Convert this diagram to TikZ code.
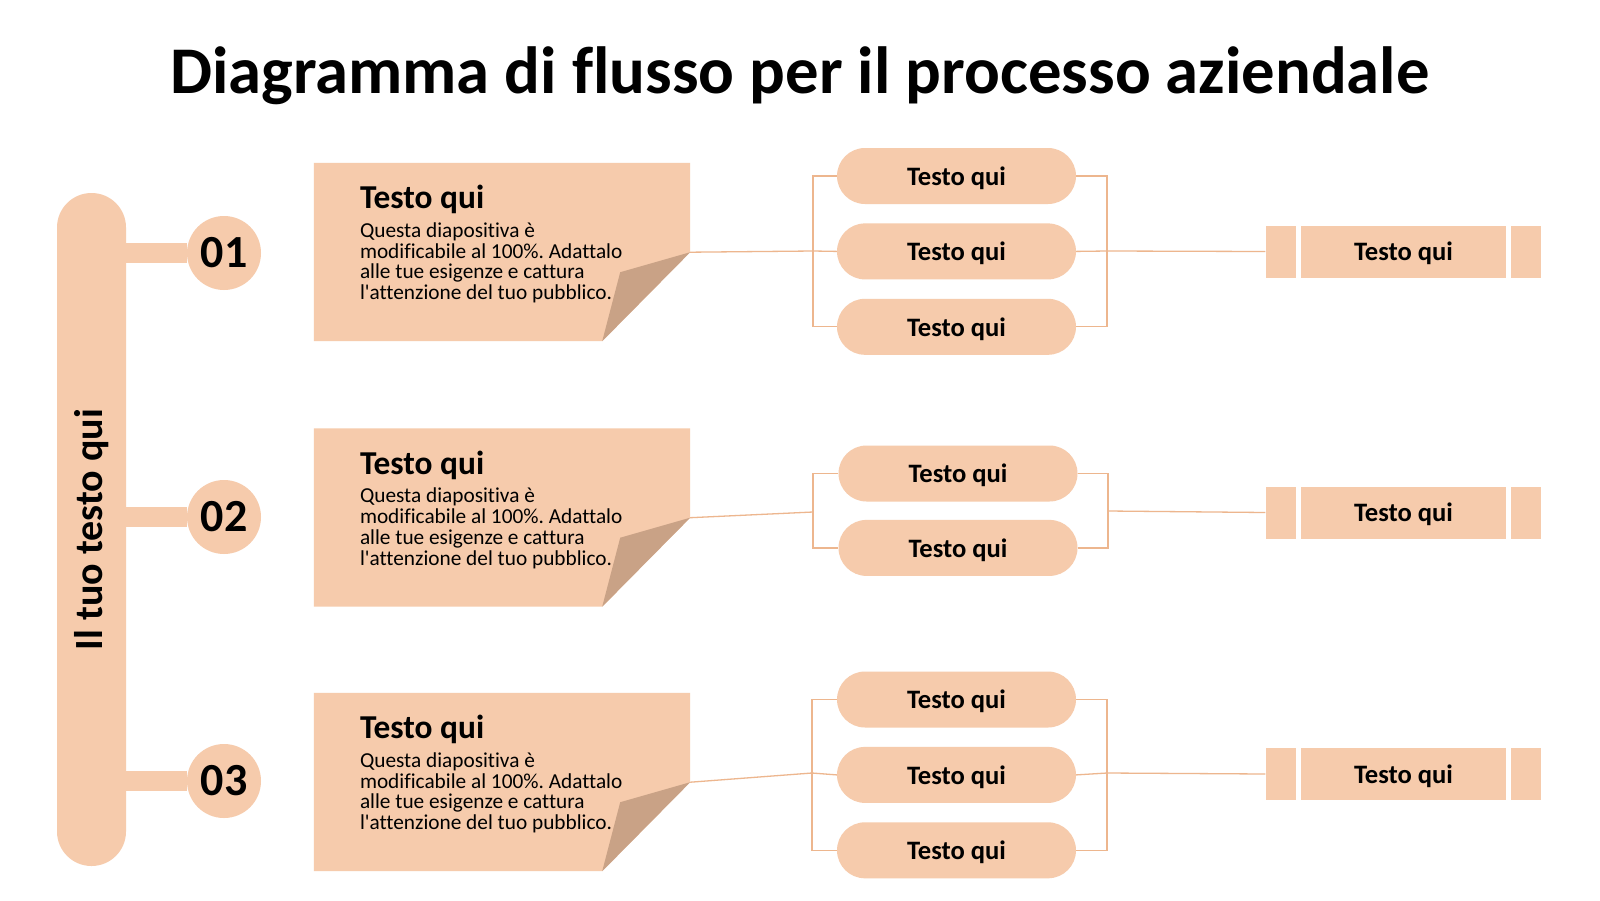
\documentclass[tikz,border=0pt]{standalone}
\usepackage{fontspec}
\setmainfont{Carlito}[Ligatures={TeXOff,CommonOff}]
\usepackage{tikz}
\usepackage{xcolor}
\usetikzlibrary{positioning}
\frenchspacing
\definecolor{peach}{HTML}{F6CBAC}
\definecolor{foldc}{HTML}{C9A286}
\definecolor{linkc}{HTML}{EDB68E}
\newcommand{\tq}{Testo qui}
\newcommand{\notetext}{Questa diapositiva è\\modificabile al 100\%. Adattalo\\alle tue esigenze e cattura\\l'attenzione del tuo pubblico.}
\tikzstyle{spine} = [fill=peach, rounded corners=34.5pt, minimum width=69pt, minimum height=673pt, inner sep=0pt]
\tikzstyle{stub} = [draw=peach, line width=20pt]
\tikzstyle{num} = [circle, fill=peach, minimum size=74pt, inner sep=0pt, font=\fontsize{46}{54}\selectfont\bfseries]
\tikzstyle{note} = [minimum width=376pt, minimum height=178pt, inner sep=0pt]
\tikzstyle{notehead} = [inner sep=0pt, font=\fontsize{33.4}{40}\selectfont\bfseries]
\tikzstyle{notebody} = [inner sep=0pt, align=left, font=\fontsize{21.3}{20.8}\selectfont]
\tikzstyle{pill} = [fill=peach, rounded corners=28pt, minimum width=239pt, minimum height=56pt, inner sep=0pt, text depth=0pt, font=\fontsize{26.6}{32}\selectfont\bfseries]
\tikzstyle{rbox} = [fill=peach, minimum width=205pt, minimum height=52pt, inner sep=0pt, text depth=0pt, font=\fontsize{26.6}{32}\selectfont\bfseries]
\tikzstyle{rside} = [fill=peach, minimum width=30pt, minimum height=52pt, inner sep=0pt]
\tikzstyle{link} = [draw=linkc, line width=1.3pt]

\begin{document}
\begin{tikzpicture}[x=1pt,y=-1pt]
	\useasboundingbox[fill=white] (0,0) rectangle (1600,900);
	\node[font=\fontsize{66.7}{80}\selectfont\bfseries, anchor=base] (title) at (800,93) {Diagramma di flusso per il processo aziendale};

	\node[spine] (bar) at (91.5,529.5) {};
	\node[rotate=90, font=\fontsize{40}{48}\selectfont\bfseries] (bartext) at (bar.center) {Il tuo testo qui};

	\node[num] (n1) at (224,253) {01};
	\node[num] (n2) at (224,517) {02};
	\node[num] (n3) at (224,781) {03};
	\draw[stub] (n1.west) -- (n1 -| bar.east);
	\draw[stub] (n2.west) -- (n2 -| bar.east);
	\draw[stub] (n3.west) -- (n3 -| bar.east);

	\node[note] (b1) at (502,252) {};
	\node[note] (b2) at (502,517.5) {};
	\node[note] (b3) at (502,782) {};
	\coordinate (f1) at ([yshift=89pt]b1.south east);
	\coordinate (f2) at ([yshift=89pt]b2.south east);
	\coordinate (f3) at ([yshift=89pt]b3.south east);
	\fill[peach] (b1.north west) -- (b1.north east) -- (f1) -- ([xshift=-88pt]b1.south east) -- (b1.south west) -- cycle;
	\fill[foldc] (f1) -- ++(-70,20) -- ++(-18,69) -- cycle;
	\fill[peach] (b2.north west) -- (b2.north east) -- (f2) -- ([xshift=-88pt]b2.south east) -- (b2.south west) -- cycle;
	\fill[foldc] (f2) -- ++(-70,20) -- ++(-18,69) -- cycle;
	\fill[peach] (b3.north west) -- (b3.north east) -- (f3) -- ([xshift=-88pt]b3.south east) -- (b3.south west) -- cycle;
	\fill[foldc] (f3) -- ++(-70,20) -- ++(-18,69) -- cycle;

	\node[notehead, anchor=base west] (h1) at ([xshift=46pt,yshift=-46pt]b1.north west) {\tq};
	\node[notebody, anchor=north west] (t1) at ([yshift=-13.5pt]h1.base west) {\notetext};
	\node[notehead, anchor=base west] (h2) at ([xshift=46pt,yshift=-46pt]b2.north west) {\tq};
	\node[notebody, anchor=north west] (t2) at ([yshift=-13.5pt]h2.base west) {\notetext};
	\node[notehead, anchor=base west] (h3) at ([xshift=46pt,yshift=-46pt]b3.north west) {\tq};
	\node[notebody, anchor=north west] (t3) at ([yshift=-13.5pt]h3.base west) {\notetext};

	\node[pill] (p11) at (956.5,176) {\tq};
	\node[pill, below=19pt of p11] (p12) {\tq};
	\node[pill, below=19pt of p12] (p13) {\tq};
	\node[pill] (p21) at (958,473.5) {\tq};
	\node[pill, below=18pt of p21] (p22) {\tq};
	\node[pill] (p31) at (956.5,699.5) {\tq};
	\node[pill, below=19pt of p31] (p32) {\tq};
	\node[pill, below=19pt of p32] (p33) {\tq};

	\node[rbox] (r1) at (1403.5,251.5) {\tq};
	\node[rside, left=5pt of r1] (s1) {};
	\node[rside, right=5pt of r1] (e1) {};
	\node[rbox] (r2) at (1403.5,512.5) {\tq};
	\node[rside, left=5pt of r2] (s2) {};
	\node[rside, right=5pt of r2] (e2) {};
	\node[rbox] (r3) at (1403.5,774) {\tq};
	\node[rside, left=5pt of r3] (s3) {};
	\node[rside, right=5pt of r3] (e3) {};

	\coordinate (l1) at (813,251);
	\coordinate (m1) at (1107,251);
	\draw[link] (p11.west) -| (l1) |- (p13.west);
	\draw[link] (f1) -- (l1) -- (p12.west);
	\draw[link] (p11.east) -| (m1) |- (p13.east);
	\draw[link] (p12.east) -- (m1) -- (s1.west);

	\coordinate (l2) at (813,512);
	\coordinate (m2) at (1108,511);
	\draw[link] (p21.west) -| (l2) |- (p22.west);
	\draw[link] (f2) -- (l2);
	\draw[link] (p21.east) -| (m2) |- (p22.east);
	\draw[link] (m2) -- (s2.west);

	\coordinate (l3) at (812,773);
	\coordinate (m3) at (1107,773);
	\draw[link] (p31.west) -| (l3) |- (p33.west);
	\draw[link] (f3) -- (l3) -- (p32.west);
	\draw[link] (p31.east) -| (m3) |- (p33.east);
	\draw[link] (p32.east) -- (m3) -- (s3.west);
\end{tikzpicture}
\end{document}
